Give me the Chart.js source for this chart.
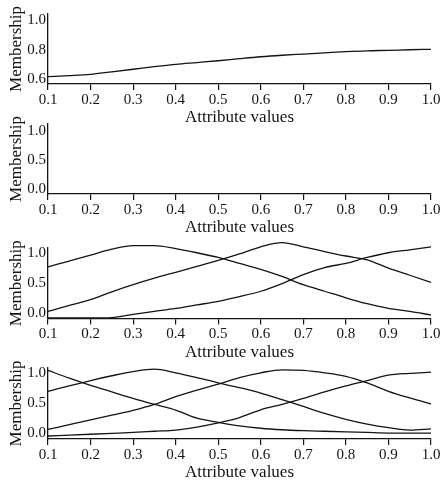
<!DOCTYPE html>
<html><head><meta charset="utf-8">
<title>Membership functions</title>
<script src="https://cdn.jsdelivr.net/npm/chart.js"></script>
<style>
  html, body { margin: 0; padding: 0; background: #ffffff; overflow: hidden; }
  body { width: 443px; height: 481px; position: relative; }
  canvas { position: absolute; left: 0; }
</style>
</head>
<body>
<canvas id="p1"></canvas>
<canvas id="p2"></canvas>
<canvas id="p3"></canvas>
<canvas id="p4"></canvas>
<script>
// attribute values where the curves are sampled
const xValues = [0.1, 0.15, 0.2, 0.25, 0.3, 0.35, 0.4, 0.45, 0.5, 0.55, 0.6, 0.65, 0.7, 0.75, 0.8, 0.85, 0.9, 0.95, 1.0];
const xTicks = [0.1, 0.2, 0.3, 0.4, 0.5, 0.6, 0.7, 0.8, 0.9, 1.0];
const yTicksTop = [0.6, 0.8, 1.0];
const yTicksOther = [0.0, 0.5, 1.0];

// panel 1: one membership function
const p1Curve = [0.619, 0.626, 0.635, 0.652, 0.669, 0.686, 0.702, 0.714, 0.726, 0.740, 0.753, 0.763, 0.771, 0.779, 0.787, 0.793, 0.796, 0.800, 0.803];

// panel 3: three membership functions
const p3Low  = [0.77, 0.87, 0.97, 1.07, 1.13, 1.13, 1.08, 1.01, 0.93, 0.83, 0.73, 0.61, 0.47, 0.36, 0.25, 0.15, 0.07, 0.02, -0.04];
const p3Mid  = [0.02, 0.12, 0.22, 0.35, 0.47, 0.58, 0.68, 0.78, 0.88, 0.99, 1.11, 1.18, 1.11, 1.03, 0.955, 0.89, 0.75, 0.63, 0.51];
const p3High = [-0.09, -0.09, -0.09, -0.085, -0.03, 0.02, 0.07, 0.13, 0.19, 0.27, 0.36, 0.49, 0.64, 0.76, 0.83, 0.93, 1.01, 1.06, 1.11];

// panel 4: four membership functions
const p4Down = [1.05, 0.92, 0.80, 0.69, 0.58, 0.48, 0.385, 0.25, 0.18, 0.12, 0.08, 0.055, 0.04, 0.03, 0.02, 0.01, 0.0, 0.0, 0.0];
const p4Low  = [0.70, 0.79, 0.88, 0.96, 1.03, 1.07, 1.01, 0.93, 0.84, 0.76, 0.67, 0.56, 0.445, 0.33, 0.23, 0.15, 0.09, 0.05, 0.07];
const p4Mid  = [0.06, 0.14, 0.22, 0.30, 0.38, 0.48, 0.61, 0.72, 0.82, 0.93, 1.01, 1.06, 1.05, 1.01, 0.95, 0.84, 0.70, 0.59, 0.49];
const p4High = [-0.05, -0.035, -0.02, -0.005, 0.01, 0.03, 0.05, 0.10, 0.17, 0.26, 0.39, 0.48, 0.58, 0.69, 0.79, 0.88, 0.97, 1.00, 1.02];

const FONT = "'Liberation Serif', 'DejaVu Serif', serif";

const panels = [
  { id: 'p1', top: 0,   plotTop: 14,  axisY: 84,    yMin: 0.57, yMax: 1.04, yTicks: yTicksTop,   curves: [p1Curve] },
  { id: 'p2', top: 110, plotTop: 124, axisY: 194,   yMin: -0.09, yMax: 1.115, yTicks: yTicksOther, curves: [] },
  { id: 'p3', top: 235, plotTop: 248, axisY: 318.5, yMin: -0.1, yMax: 1.09, yTicks: yTicksOther, curves: [p3Low, p3Mid, p3High] },
  { id: 'p4', top: 355, plotTop: 368, axisY: 439,   yMin: -0.1, yMax: 1.09, yTicks: yTicksOther, curves: [p4Down, p4Low, p4Mid, p4High] }
];

function makePanel(p) {
  const canvas = document.getElementById(p.id);
  const h = Math.round(p.axisY + 44 - p.top);
  canvas.width = 443;
  canvas.height = h;
  canvas.style.top = p.top + 'px';
  canvas.style.width = '443px';
  canvas.style.height = h + 'px';

  const xHeight = h - (p.axisY - p.top);

  new Chart(canvas, {
    type: 'line',
    data: {
      datasets: p.curves.map(c => ({
        data: xValues.map((x, i) => ({ x: x, y: c[i] })),
        borderColor: '#141414',
        borderWidth: 1.3,
        pointRadius: 0,
        cubicInterpolationMode: 'monotone',
        clip: false,
        fill: false
      }))
    },
    options: {
      responsive: false,
      animation: false,
      devicePixelRatio: 1,
      layout: { padding: { top: p.plotTop - p.top, right: 12, bottom: 0, left: 0 } },
      plugins: { legend: { display: false }, tooltip: { enabled: false } },
      scales: {
        x: {
          type: 'linear',
          min: 0.1,
          max: 1.0,
          afterBuildTicks: s => { s.ticks = xTicks.map(v => ({ value: v })); },
          afterFit: s => { s.height = xHeight; s.paddingLeft = 0; s.paddingRight = 0; },
          grid: { display: true, drawOnChartArea: false, drawTicks: true, tickLength: 6, color: '#141414', lineWidth: 1.2 },
          border: { display: true, color: '#141414', width: 1.3 },
          ticks: {
            color: '#141414',
            padding: 1,
            maxRotation: 0,
            autoSkip: false,
            font: { family: FONT, size: 15 },
            callback: v => Number(v).toFixed(1)
          },
          title: {
            display: true,
            text: 'Attribute values',
            color: '#141414',
            padding: 0,
            font: { family: FONT, size: 17 }
          }
        },
        y: {
          type: 'linear',
          min: p.yMin,
          max: p.yMax,
          afterBuildTicks: s => { s.ticks = p.yTicks.map(v => ({ value: v })); },
          afterFit: s => { s.width = 48; s.paddingTop = 0; s.paddingBottom = 0; },
          grid: { display: true, drawOnChartArea: false, drawTicks: false },
          border: { display: true, color: '#141414', width: 1.3 },
          ticks: {
            color: '#141414',
            padding: 2,
            autoSkip: false,
            font: { family: FONT, size: 15 },
            callback: v => Number(v).toFixed(1)
          },
          title: {
            display: true,
            text: 'Membership',
            color: '#141414',
            padding: { top: 6, bottom: 0 },
            font: { family: FONT, size: 17 }
          }
        }
      }
    }
  });
}

panels.forEach(makePanel);
</script>
</body></html>
